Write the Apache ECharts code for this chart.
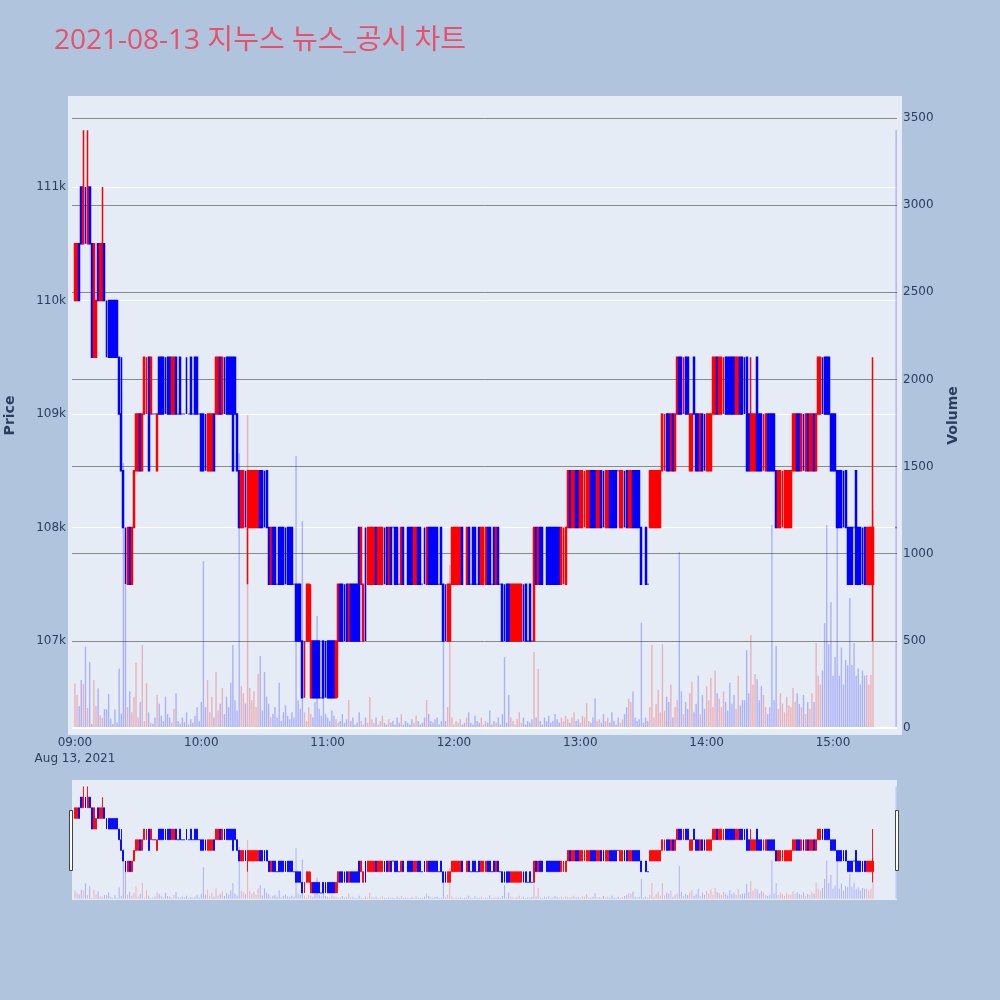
<!DOCTYPE html>
<html>
<head>
<meta charset="utf-8">
<script src="https://cdn.jsdelivr.net/npm/echarts@6/dist/echarts.min.js"></script>
<style>html,body{margin:0;padding:0;background:#b0c4de}#c{width:1000px;height:1000px}</style>
</head>
<body>
<div id="c"></div>
<script>
const chartTitle = '2021-08-13 지누스 뉴스_공시 차트';
const dateLabel = 'Aug 13, 2021';
const times = [
'09:00','09:01','09:02','09:03','09:04','09:05','09:06','09:07','09:08','09:09','09:10','09:11','09:12','09:13','09:14','09:15','09:16','09:17','09:18','09:19',
'09:20','09:21','09:22','09:23','09:24','09:25','09:26','09:27','09:28','09:29','09:30','09:31','09:32','09:33','09:34','09:35','09:36','09:37','09:38','09:39',
'09:40','09:41','09:42','09:43','09:44','09:45','09:46','09:47','09:48','09:49','09:50','09:51','09:52','09:53','09:54','09:55','09:56','09:57','09:58','09:59',
'10:00','10:01','10:02','10:03','10:04','10:05','10:06','10:07','10:08','10:09','10:10','10:11','10:12','10:13','10:14','10:15','10:16','10:17','10:18','10:19',
'10:20','10:21','10:22','10:23','10:24','10:25','10:26','10:27','10:28','10:29','10:30','10:31','10:32','10:33','10:34','10:35','10:36','10:37','10:38','10:39',
'10:40','10:41','10:42','10:43','10:44','10:45','10:46','10:47','10:48','10:49','10:50','10:51','10:52','10:53','10:54','10:55','10:56','10:57','10:58','10:59',
'11:00','11:01','11:02','11:03','11:04','11:05','11:06','11:07','11:08','11:09','11:10','11:11','11:12','11:13','11:14','11:15','11:16','11:17','11:18','11:19',
'11:20','11:21','11:22','11:23','11:24','11:25','11:26','11:27','11:28','11:29','11:30','11:31','11:32','11:33','11:34','11:35','11:36','11:37','11:38','11:39',
'11:40','11:41','11:42','11:43','11:44','11:45','11:46','11:47','11:48','11:49','11:50','11:51','11:52','11:53','11:54','11:55','11:56','11:57','11:58','11:59',
'12:00','12:01','12:02','12:03','12:04','12:05','12:06','12:07','12:08','12:09','12:10','12:11','12:12','12:13','12:14','12:15','12:16','12:17','12:18','12:19',
'12:20','12:21','12:22','12:23','12:24','12:25','12:26','12:27','12:28','12:29','12:30','12:31','12:32','12:33','12:34','12:35','12:36','12:37','12:38','12:39',
'12:40','12:41','12:42','12:43','12:44','12:45','12:46','12:47','12:48','12:49','12:50','12:51','12:52','12:53','12:54','12:55','12:56','12:57','12:58','12:59',
'13:00','13:01','13:02','13:03','13:04','13:05','13:06','13:07','13:08','13:09','13:10','13:11','13:12','13:13','13:14','13:15','13:16','13:17','13:18','13:19',
'13:20','13:21','13:22','13:23','13:24','13:25','13:26','13:27','13:28','13:29','13:30','13:31','13:32','13:33','13:34','13:35','13:36','13:37','13:38','13:39',
'13:40','13:41','13:42','13:43','13:44','13:45','13:46','13:47','13:48','13:49','13:50','13:51','13:52','13:53','13:54','13:55','13:56','13:57','13:58','13:59',
'14:00','14:01','14:02','14:03','14:04','14:05','14:06','14:07','14:08','14:09','14:10','14:11','14:12','14:13','14:14','14:15','14:16','14:17','14:18','14:19',
'14:20','14:21','14:22','14:23','14:24','14:25','14:26','14:27','14:28','14:29','14:30','14:31','14:32','14:33','14:34','14:35','14:36','14:37','14:38','14:39',
'14:40','14:41','14:42','14:43','14:44','14:45','14:46','14:47','14:48','14:49','14:50','14:51','14:52','14:53','14:54','14:55','14:56','14:57','14:58','14:59',
'15:00','15:01','15:02','15:03','15:04','15:05','15:06','15:07','15:08','15:09','15:10','15:11','15:12','15:13','15:14','15:15','15:16','15:17','15:18','15:19',
'15:30'
];
const opens = [
110000,110000,110500,111000,110500,111000,110500,111000,110500,109500,
109500,110500,110000,110000,110500,110000,110000,110000,110000,110000,
110000,109500,109000,108500,108000,107500,108000,107500,108000,108500,
108500,109000,108500,109000,109000,109500,109000,109000,109000,108500,
109500,109500,109500,109500,109500,109500,109000,109000,109500,109000,
109500,109000,109000,109500,109000,109500,109000,109500,109500,109000,
109000,109000,109000,108500,108500,108500,109000,109000,109000,109500,
109000,109500,109500,109500,109500,109500,109500,109000,108500,108000,
108000,108500,108000,108000,108000,108000,108000,108000,108500,108500,
108500,108500,108000,107500,108000,108000,107500,108000,108000,108000,
108000,108000,108000,108000,107500,107500,107500,107500,107000,106500,
107000,107000,106500,107000,107000,107000,107000,106500,107000,107000,
107000,107000,107000,107000,106500,107000,107500,107500,107500,107500,
107000,107500,107500,107500,107500,108000,107500,107000,108000,107500,
107500,107500,107500,108000,107500,107500,107500,108000,108000,107500,
108000,108000,108000,108000,107500,107500,108000,108000,108000,108000,
108000,107500,107500,108000,108000,107500,108000,107500,108000,108000,
108000,108000,108000,107500,108000,107500,107500,107000,107000,107500,
107500,107500,107500,107500,108000,107500,107500,108000,107500,108000,
108000,107500,108000,107500,107500,107500,108000,108000,107500,108000,
107500,108000,107500,107500,107500,107500,107500,107000,107000,107000,
107000,107000,107000,107500,107500,107000,107500,107000,107000,108000,
107500,108000,108000,107500,108000,108000,108000,108000,108000,108000,
108000,107500,107500,107500,108000,108500,108000,108000,108500,108500,
108000,108000,108000,108000,108000,108500,108500,108500,108000,108000,
108500,108500,108000,108000,108500,108500,108500,108500,108500,108000,
108000,108500,108500,108000,108000,108500,108500,108500,108500,108000,
107500,108000,107500,108000,108000,108000,108000,108000,108000,108500,
108500,109000,109000,108500,109000,108500,109000,109500,109500,109000,
109500,109500,108500,108500,109500,109000,109000,108500,109000,109000,
108500,108500,108500,109000,109000,109500,109000,109000,109000,109500,
109500,109500,109500,109500,109000,109000,109500,109500,109500,109500,
109000,108500,108500,108500,109500,109000,109000,108500,108500,109000,
109000,109000,109000,108500,108000,108000,108000,108000,108000,108000,
108000,108500,108500,109000,109000,108500,109000,108500,109000,108500,
108500,109000,108500,109000,109000,109500,109500,109500,109500,109000,
109000,109000,108500,108500,108500,108500,108500,108000,108000,108000,
108000,108500,108000,108000,108000,108000,107500,107500,107500,107500,
108000
];
const closes = [
110500,110500,110000,110500,111000,110500,111000,110500,109500,110500,
110000,110000,110500,110500,110000,109500,109500,109500,109500,109500,
109500,109000,108500,108000,107500,108000,107500,108000,108500,109000,
109000,108500,109000,109500,109500,108500,109500,109000,109000,109000,
109000,109000,109000,109000,109000,109000,109500,109500,109000,109000,
109000,109000,109000,109000,109000,109000,109000,109000,109000,109000,
108500,108500,108500,109000,109000,109000,108500,109500,109500,109000,
109500,109000,109000,109000,109000,108500,109000,108500,108000,108500,
108500,108000,108500,108500,108500,108500,108500,108500,108000,108000,
108000,108000,107500,108000,107500,107500,107500,107500,107500,107500,
107500,107500,107500,107500,107500,107000,107000,107000,106500,107000,
107500,107500,107000,106500,106500,106500,106500,106500,106500,106500,
106500,106500,106500,106500,107000,107500,107000,107000,107000,107000,
107500,107000,107000,107000,107000,107000,108000,107500,107000,108000,
108000,108000,108000,107500,108000,108000,108000,107500,107500,108000,
107500,108000,107500,107500,107500,108000,107500,108000,107500,107500,
107500,108000,108000,107500,107500,107500,107500,108000,107500,107500,
107500,107500,107500,107500,107500,107000,107000,107500,107500,108000,
108000,108000,108000,108000,107500,107500,108000,107500,107500,107500,
107500,107500,107500,108000,108000,108000,107500,107500,107500,107500,
108000,107500,107500,107000,107000,107000,107000,107500,107500,107500,
107500,107500,107500,107000,107000,107000,107000,107000,108000,107500,
108000,107500,107500,107500,107500,107500,107500,107500,107500,107500,
107500,108000,108000,108000,108500,108000,108500,108500,108000,108000,
108500,108500,108500,108500,108500,108000,108000,108000,108500,108500,
108000,108000,108500,108500,108000,108000,108000,108000,108500,108500,
108500,108000,108000,108500,108500,108000,108000,108000,108000,107500,
107500,107500,107500,108500,108500,108500,108500,108500,108500,109000,
109000,108500,108500,109000,108500,109000,109500,109000,109000,109500,
109000,109000,109000,109000,109000,108500,108500,109000,108500,108500,
109000,109000,109000,109500,109500,109000,109500,109500,109500,109000,
109000,109000,109000,109000,109500,109500,109000,109000,109000,108500,
108500,109000,109000,109000,108500,108500,108500,109000,109000,108500,
108500,108500,108500,108000,108500,108500,108500,108500,108500,108500,
108500,109000,109000,108500,108500,109000,108500,109000,108500,109000,
109000,108500,109000,109500,109500,109000,109000,109000,109000,108500,
108500,108500,108000,108000,108000,108000,108000,107500,107500,107500,
108000,107500,107500,107500,107500,107500,108000,108000,108000,108000,
108000
];
const lows = [
110000,110000,110000,110500,110500,110500,110500,110500,109500,109500,
109500,110000,110000,110000,110000,109500,109500,109500,109500,109500,
109500,109000,108500,108000,107500,107500,107500,107500,108000,108500,
108500,108500,108500,109000,109000,108500,109000,109000,109000,108500,
109000,109000,109000,109000,109000,109000,109000,109000,109000,109000,
109000,109000,109000,109000,109000,109000,109000,109000,109000,109000,
108500,108500,108500,108500,108500,108500,108500,109000,109000,109000,
109000,109000,109000,109000,109000,108500,109000,108500,108000,108000,
108000,108000,107500,108000,108000,108000,108000,108000,108000,108000,
108000,108000,107500,107500,107500,107500,107500,107500,107500,107500,
107500,107500,107500,107500,107500,107000,107000,107000,106500,106500,
107000,107000,106500,106500,106500,106500,106500,106500,106500,106500,
106500,106500,106500,106500,106500,106500,107000,107000,107000,107000,
107000,107000,107000,107000,107000,107000,107500,107000,107000,107500,
107500,107500,107500,107500,107500,107500,107500,107500,107500,107500,
107500,108000,107500,107500,107500,107500,107500,108000,107500,107500,
107500,107500,107500,107500,107500,107500,107500,107500,107500,107500,
107500,107500,107500,107500,107500,107000,107000,107000,107000,107500,
107500,107500,107500,107500,107500,107500,107500,107500,107500,107500,
107500,107500,107500,107500,107500,107500,107500,107500,107500,107500,
107500,107500,107500,107000,107000,107000,107000,107000,107000,107000,
107000,107000,107000,107000,107000,107000,107000,107000,107000,107500,
107500,107500,107500,107500,107500,107500,107500,107500,107500,107500,
107500,107500,107500,107500,108000,108000,108000,108000,108000,108000,
108000,108000,108000,108000,108000,108000,108000,108000,108000,108000,
108000,108000,108000,108000,108000,108000,108000,108000,108500,108000,
108000,108000,108000,108000,108000,108000,108000,108000,108000,107500,
107500,107500,107500,108000,108000,108000,108000,108000,108000,108500,
108500,108500,108500,108500,108500,108500,109000,109000,109000,109000,
109000,109000,108500,108500,109000,108500,108500,108500,108500,108500,
108500,108500,108500,109000,109000,109000,109000,109000,109000,109000,
109000,109000,109000,109000,109000,109000,109000,109000,109000,108500,
108500,108500,108500,108500,108500,108500,108500,108500,108500,108500,
108500,108500,108500,108000,108000,108000,108000,108000,108000,108000,
108000,108500,108500,108500,108500,108500,108500,108500,108500,108500,
108500,108500,108500,109000,109000,109000,109000,109000,109000,108500,
108500,108500,108000,108000,108000,108000,108000,107500,107500,107500,
108000,107500,107500,107500,107500,107500,107500,107500,107500,107000,
108000
];
const highs = [
110500,110500,110500,111000,111500,111000,111500,111000,110500,110500,
110000,110500,110500,111000,110500,110000,110000,110000,110000,110000,
110000,109500,109500,108500,108000,108000,108000,108000,108500,109000,
109000,109000,109000,109500,109500,109500,109500,109000,109000,109000,
109500,109500,109500,109500,109500,109500,109500,109500,109500,109000,
109500,109000,109000,109500,109000,109500,109000,109500,109500,109000,
109000,109000,109000,109000,109000,109000,109000,109500,109500,109500,
109500,109500,109500,109500,109500,109500,109500,109000,108500,108500,
108500,108500,108500,108500,108500,108500,108500,108500,108500,108500,
108500,108500,108000,108000,108000,108000,107500,108000,108000,108000,
108000,108000,108000,108000,107500,107500,107500,107500,107000,107000,
107500,107500,107500,107000,107000,107000,107000,106500,107000,107000,
107000,107000,107000,107000,107000,107500,107500,107500,107500,107500,
107500,107500,107500,107500,107500,108000,108000,107500,108000,108000,
108000,108000,108000,108000,108000,108000,108000,108000,108000,108000,
108000,108000,108000,108000,107500,108000,108000,108000,108000,108000,
108000,108000,108000,108000,108000,107500,108000,108000,108000,108000,
108000,108000,108000,107500,108000,107500,107500,107500,107500,108000,
108000,108000,108000,108000,108000,107500,108000,108000,107500,108000,
108000,107500,108000,108000,108000,108000,108000,108000,107500,108000,
108000,108000,107500,107500,107500,107500,107500,107500,107500,107500,
107500,107500,107500,107500,107500,107000,107500,107000,108000,108000,
108000,108000,108000,107500,108000,108000,108000,108000,108000,108000,
108000,108000,108000,108000,108500,108500,108500,108500,108500,108500,
108500,108500,108500,108500,108500,108500,108500,108500,108500,108500,
108500,108500,108500,108500,108500,108500,108500,108500,108500,108500,
108500,108500,108500,108500,108500,108500,108500,108500,108500,108000,
107500,108000,107500,108500,108500,108500,108500,108500,108500,109000,
109000,109000,109000,109000,109000,109000,109500,109500,109500,109500,
109500,109500,109000,109000,109500,109000,109000,109000,109000,109000,
109000,109000,109000,109500,109500,109500,109500,109500,109500,109500,
109500,109500,109500,109500,109500,109500,109500,109500,109500,109500,
109000,109500,109000,109000,109500,109000,109000,109000,109000,109000,
109000,109000,109000,108500,108500,108500,108500,108500,108500,108500,
108500,109000,109000,109000,109000,109000,109000,109000,109000,109000,
109000,109000,109000,109500,109500,109500,109500,109500,109500,109000,
109000,109000,108500,108500,108500,108500,108500,108000,108000,108000,
108000,108500,108000,108000,108000,108000,108000,108000,108000,109500,
108000
];
const volumes = [
256,190,126,275,252,467,115,378,23,275,
126,228,74,59,109,107,195,55,23,107,
31,342,84,1520,820,120,210,90,180,373,
60,150,476,40,258,90,30,25,60,190,
140,70,40,180,80,60,30,110,200,40,
25,60,35,90,20,50,30,70,120,40,
150,958,120,275,90,180,60,321,100,140,
230,80,180,120,260,476,160,100,1576,240,
200,140,1795,230,160,210,120,310,413,100,
321,180,140,60,80,120,60,260,40,90,
130,70,50,90,60,1560,160,110,1188,90,
40,120,80,60,150,643,110,70,190,80,
60,40,100,70,50,30,40,80,30,50,
160,40,60,20,30,90,40,20,60,30,
178,50,30,60,20,40,70,30,20,50,
30,40,20,60,30,80,20,40,30,20,
50,30,70,40,20,30,60,160,80,40,
30,50,60,20,40,505,40,120,935,60,
20,40,30,50,20,30,60,90,30,20,
70,40,30,60,20,40,30,100,20,40,
30,60,20,80,407,30,190,60,40,20,
50,90,30,60,20,40,30,50,436,60,
338,40,20,60,40,70,30,40,80,50,
30,60,40,70,50,30,60,90,40,50,
30,70,60,143,40,30,60,170,40,50,
30,80,40,60,30,90,40,20,60,30,
50,80,120,170,150,210,60,40,50,604,
30,60,40,120,476,60,140,220,90,480,
100,180,150,250,60,120,160,1010,210,80,
150,110,200,266,90,140,300,80,190,110,
240,160,287,120,330,200,170,120,210,150,
100,260,140,190,110,300,130,160,160,447,
200,534,250,310,280,160,240,190,120,80,
120,1165,160,470,110,200,140,90,180,130,
120,230,150,200,140,120,190,80,150,110,
200,150,488,300,250,330,602,1165,480,723,
300,407,1148,300,462,250,390,360,746,361,
488,300,342,250,330,300,304,250,304,1250,
3430
];
const timeTicks = ['09:00','10:00','11:00','12:00','13:00','14:00','15:00'];

const UP = '#ff0000', DOWN = '#0000ff';
const toMin = t => { const p = t.split(':'); return (+p[0]) * 60 + (+p[1]) - 540; };
const xs = times.map(toMin);
const candleData = xs.map((x, i) => [x, opens[i], closes[i], lows[i], highs[i]]);
const volData = xs.map((x, i) => ({
  value: [x, volumes[i]],
  itemStyle: { color: closes[i] > opens[i] ? 'rgba(255,0,0,0.25)' : 'rgba(0,0,255,0.25)' }
}));
const tickMins = timeTicks.map(toMin);
const minToLabel = v => { const h = Math.floor((v + 540) / 60), m = Math.round(v + 540) % 60; return (h < 10 ? '0' : '') + h + ':' + (m < 10 ? '0' : '') + m; };

const X_MIN = -1.4, X_MAX = 390.4;
const P_MIN = 106172, P_MAX = 111802;
const V_MIN = -40, V_MAX = 3626;
const TITLE_FONT = "'Open Sans', 'Noto Sans CJK KR', sans-serif";
const FONT = "'DejaVu Sans', Verdana, sans-serif";
const TXT = '#2a3f5f';

const chart = echarts.init(document.getElementById('c'), null, { renderer: 'canvas' });
chart.setOption({
  animation: false,
  backgroundColor: '#b0c4de',
  title: {
    text: chartTitle, left: 49, top: 22,
    textStyle: { color: '#e9506a', fontSize: 28, fontWeight: 'normal', fontFamily: TITLE_FONT }
  },
  grid: [
    { left: 68, right: 98, top: 96, bottom: 265, show: true, backgroundColor: '#e5ecf6', borderWidth: 0, outerBoundsMode: 'none', containLabel: false },
    { left: 72, right: 103, top: 96, bottom: 265, show: false, outerBoundsMode: 'none', containLabel: false },
    { left: 72, right: 103, top: 780, height: 120, show: true, backgroundColor: '#e5ecf6', borderWidth: 0, outerBoundsMode: 'none', containLabel: false }
  ],
  xAxis: [
    { gridIndex: 0, type: 'value', min: 0, max: 1, show: false },
    { gridIndex: 1, type: 'value', min: X_MIN, max: X_MAX,
      axisLine: { show: false }, axisTick: { show: false }, splitLine: { show: false },
      axisLabel: {
        customValues: tickMins, margin: 0, color: TXT, fontSize: 12, fontFamily: FONT, lineHeight: 16,
        formatter: v => minToLabel(v) + (v === 0 ? '\n' + dateLabel : '')
      } },
    { gridIndex: 2, type: 'value', min: X_MIN, max: X_MAX, show: false }
  ],
  yAxis: [
    { gridIndex: 0, type: 'value', min: 0, max: 1, show: false },
    { gridIndex: 1, type: 'value', position: 'left', min: P_MIN, max: P_MAX, splitNumber: 5,
      name: 'Price', nameLocation: 'middle', nameGap: 55,
      nameTextStyle: { color: TXT, fontSize: 14, fontWeight: 'bold', fontFamily: FONT },
      axisLine: { show: false }, axisTick: { show: false },
      axisLabel: { color: TXT, fontSize: 12, fontFamily: FONT, margin: 6, showMinLabel: false, showMaxLabel: false,
        formatter: v => (v / 1000) + 'k' },
      splitLine: { show: true, showMinLine: false, showMaxLine: false, lineStyle: { color: '#ffffff', width: 1 } } },
    { gridIndex: 1, type: 'value', position: 'right', min: V_MIN, max: V_MAX, splitNumber: 7,
      minInterval: 500, maxInterval: 500,
      name: 'Volume', nameLocation: 'middle', nameGap: 49,
      nameTextStyle: { color: TXT, fontSize: 14, fontWeight: 'bold', fontFamily: FONT },
      axisLine: { show: false }, axisTick: { show: false },
      axisLabel: { color: TXT, fontSize: 12, fontFamily: FONT, margin: 6, showMinLabel: false, showMaxLabel: false,
        formatter: v => String(v) },
      splitLine: { show: true, showMinLine: false, showMaxLine: false, lineStyle: { color: '#8a8a8a', width: 1 } } },
    { gridIndex: 2, type: 'value', min: P_MIN, max: P_MAX, show: false },
    { gridIndex: 2, type: 'value', min: V_MIN, max: V_MAX, show: false }
  ],
  series: [
    { type: 'bar', xAxisIndex: 1, yAxisIndex: 2, data: volData, barWidth: 1.4, z: 2,
      markLine: { silent: true, symbol: 'none', label: { show: false },
        lineStyle: { color: '#ffffff', width: 2, type: 'solid' }, data: [{ yAxis: 0 }] } },
    { type: 'candlestick', xAxisIndex: 1, yAxisIndex: 1, data: candleData, barWidth: 1.4, z: 3,
      itemStyle: { color: UP, color0: DOWN, borderColor: UP, borderColor0: DOWN, borderColorDoji: DOWN, borderWidth: 1.5 } },
    { type: 'bar', xAxisIndex: 2, yAxisIndex: 4, data: volData, barWidth: 1, z: 2 },
    { type: 'candlestick', xAxisIndex: 2, yAxisIndex: 3, data: candleData, barWidth: 1.4, z: 3,
      itemStyle: { color: UP, color0: DOWN, borderColor: UP, borderColor0: DOWN, borderColorDoji: DOWN, borderWidth: 0.9 } }
  ],
  graphic: [
    { type: 'rect', left: 69, top: 810, shape: { width: 3, height: 60 }, style: { fill: '#ffffff', stroke: '#444', lineWidth: 1 }, z: 100 },
    { type: 'rect', left: 895, top: 810, shape: { width: 3, height: 60 }, style: { fill: '#ffffff', stroke: '#444', lineWidth: 1 }, z: 100 }
  ]
});
</script>
</body>
</html>
